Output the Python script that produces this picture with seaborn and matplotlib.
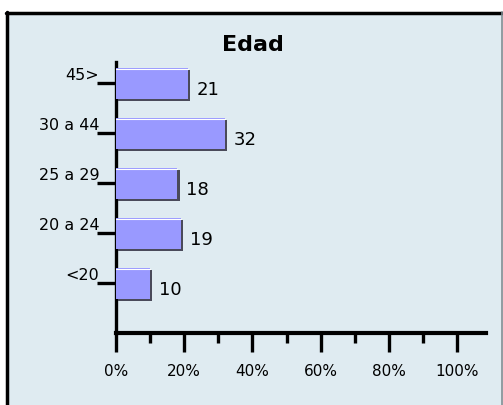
import matplotlib
matplotlib.use("Agg")
import matplotlib.pyplot as plt
import matplotlib.patheffects as pe
from matplotlib.patches import Rectangle
from matplotlib.ticker import MultipleLocator
import pandas as pd
import seaborn as sns

# data
categories = ["45>", "30 a 44", "25 a 29", "20 a 24", "<20"]
values = [21, 32, 18, 19, 10]
x_ticks = [0, 20, 40, 60, 80, 100]
x_tick_labels = ["0%", "20%", "40%", "60%", "80%", "100%"]

df = pd.DataFrame({"edad": categories, "pct": values})

sns.set_style("white")
plt.rcParams["font.family"] = ["DejaVu Sans"]
plt.rcParams["text.color"] = "black"
plt.rcParams["xtick.color"] = "black"
plt.rcParams["ytick.color"] = "black"

W, H = 503, 405
fig = plt.figure(figsize=(W / 100, H / 100), dpi=100)
fig.patch.set_facecolor("white")

# light blue panel with black top/left border
panel_bg = "#dfebf1"
fig.patches.append(Rectangle((6 / W, 0), 495 / W, (H - 12) / H, transform=fig.transFigure,
                             facecolor=panel_bg, edgecolor="none", zorder=-10))
fig.add_artist(plt.Line2D([6 / W, 502 / W], [(H - 13) / H, (H - 13) / H], transform=fig.transFigure,
                          color="black", lw=2.5))
fig.add_artist(plt.Line2D([7 / W, 7 / W], [0, (H - 12) / H], transform=fig.transFigure,
                          color="black", lw=2.5))
fig.add_artist(plt.Line2D([501.5 / W, 501.5 / W], [0, (H - 12) / H], transform=fig.transFigure,
                          color="#7d8a90", lw=1.2))

ax = fig.add_axes([116 / W, (H - 333) / H, (486 - 116) / W, (333 - 62) / H])
ax.set_facecolor("none")
ax.set_zorder(5)

sns.barplot(data=df, x="pct", y="edad", orient="h", color="#9999ff", saturation=1,
            width=0.62, ax=ax, edgecolor="none")

for bar in ax.patches:
    bar.set_path_effects([pe.SimplePatchShadow(offset=(1.6, -1.6), shadow_rgbFace="#4a4a5a", alpha=1),
                          pe.Normal()])
    bar.set_zorder(3)
    y = bar.get_y()
    ax.plot([0, bar.get_width()], [y + 0.02, y + 0.02], color="white", lw=0.8, zorder=4)

for bar, v in zip(ax.patches, values):
    ax.annotate(str(v), (bar.get_width(), bar.get_y() + bar.get_height() / 2),
                xytext=(9, -7), textcoords="offset pixels", ha="left", va="center",
                fontsize=13, color="black")

ax.set_xlim(0, 108.5)
ax.set_ylim(4.99, -0.43)

ax.set_xticks(x_ticks)
ax.set_xticklabels(x_tick_labels, fontsize=11)
ax.xaxis.set_minor_locator(MultipleLocator(10))
ax.tick_params(axis="x", which="major", bottom=True, direction="out", length=14, width=2.4, pad=8)
ax.tick_params(axis="x", which="minor", bottom=True, direction="out", length=7, width=2.4)
ax.tick_params(axis="y", left=True, direction="out", length=14, width=2.4, pad=-2, labelsize=11.5)
for lab in ax.get_yticklabels():
    lab.set_verticalalignment("bottom")

ax.set_xlabel("")
ax.set_ylabel("")

for side in ["top", "right"]:
    ax.spines[side].set_visible(False)
ax.spines["left"].set_linewidth(2.4)
ax.spines["bottom"].set_linewidth(3)
ax.spines["left"].set_color("black")
ax.spines["bottom"].set_color("black")

fig.text(253 / W, (H - 45) / H, "Edad", ha="center", va="center", fontsize=16, fontweight="bold")

fig.savefig("out.png", dpi=100)
